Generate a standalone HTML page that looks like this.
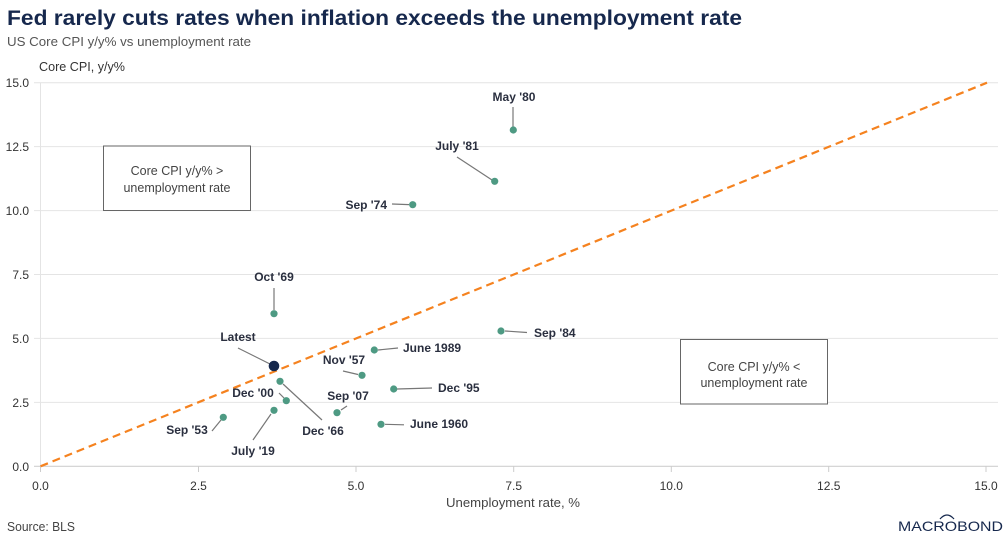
<!DOCTYPE html>
<html><head><meta charset="utf-8"><style>
html,body{margin:0;padding:0;background:#fff;}
svg{display:block;font-family:"Liberation Sans",Arial,sans-serif;}
</style></head><body>
<svg width="1008" height="542" viewBox="0 0 1008 542" xmlns="http://www.w3.org/2000/svg">
<rect width="1008" height="542" fill="#fff"/>
<text x="7" y="25" font-size="21" font-weight="bold" fill="#16284d" textLength="735" lengthAdjust="spacingAndGlyphs">Fed rarely cuts rates when inflation exceeds the unemployment rate</text>
<text x="7" y="46" font-size="13" fill="#555" textLength="244" lengthAdjust="spacingAndGlyphs">US Core CPI y/y% vs unemployment rate</text>
<text x="39" y="71" font-size="12.5" fill="#333" textLength="86" lengthAdjust="spacingAndGlyphs">Core CPI, y/y%</text>
<!-- gridlines -->
<g stroke="#e4e4e4" stroke-width="1">
<line x1="34" y1="82.7" x2="998" y2="82.7"/>
<line x1="34" y1="146.6" x2="998" y2="146.6"/>
<line x1="34" y1="210.6" x2="998" y2="210.6"/>
<line x1="34" y1="274.5" x2="998" y2="274.5"/>
<line x1="34" y1="338.4" x2="998" y2="338.4"/>
<line x1="34" y1="402.4" x2="998" y2="402.4"/>
<line x1="40.5" y1="82.7" x2="40.5" y2="466.3"/>
</g>
<line x1="34" y1="466.3" x2="998" y2="466.3" stroke="#d0d0d0" stroke-width="1.2"/>
<g stroke="#ccc" stroke-width="1">
<line x1="40.5" y1="466" x2="40.5" y2="472"/>
<line x1="198.5" y1="466" x2="198.5" y2="472"/>
<line x1="356" y1="466" x2="356" y2="472"/>
<line x1="513.7" y1="466" x2="513.7" y2="472"/>
<line x1="671.3" y1="466" x2="671.3" y2="472"/>
<line x1="828.7" y1="466" x2="828.7" y2="472"/>
<line x1="986" y1="466" x2="986" y2="472"/>
</g>
<g font-size="12" fill="#333" text-anchor="end">
<text x="29" y="87">15.0</text>
<text x="29" y="151">12.5</text>
<text x="29" y="215">10.0</text>
<text x="29" y="279">7.5</text>
<text x="29" y="343">5.0</text>
<text x="29" y="407">2.5</text>
<text x="29" y="471">0.0</text>
</g>
<g font-size="12" fill="#333" text-anchor="middle">
<text x="40.5" y="490">0.0</text>
<text x="198.5" y="490">2.5</text>
<text x="356" y="490">5.0</text>
<text x="513.7" y="490">7.5</text>
<text x="671.3" y="490">10.0</text>
<text x="828.7" y="490">12.5</text>
<text x="986" y="490">15.0</text>
</g>
<text x="513" y="507" font-size="12.5" fill="#444" text-anchor="middle" textLength="134" lengthAdjust="spacingAndGlyphs">Unemployment rate, %</text>
<text x="7" y="531" font-size="12.5" fill="#444" textLength="68" lengthAdjust="spacingAndGlyphs">Source: BLS</text>
<!-- logo -->
<text x="898" y="531" font-size="14" fill="#16284d" textLength="105" lengthAdjust="spacingAndGlyphs">MACROBOND</text>
<path d="M940 519 Q947 511 954 519" stroke="#16284d" stroke-width="1.3" fill="none"/>
<!-- boxes -->
<rect x="103.5" y="146" width="147" height="64.5" fill="#fff" stroke="#666" stroke-width="1"/>
<text x="177" y="175" font-size="12.5" fill="#444" text-anchor="middle">Core CPI y/y% &gt;</text>
<text x="177" y="192" font-size="12.5" fill="#444" text-anchor="middle">unemployment rate</text>
<rect x="680.5" y="339.5" width="147" height="64.5" fill="#fff" stroke="#666" stroke-width="1"/>
<text x="754" y="371" font-size="12.5" fill="#444" text-anchor="middle">Core CPI y/y% &lt;</text>
<text x="754" y="387" font-size="12.5" fill="#444" text-anchor="middle">unemployment rate</text>
<!-- diagonal -->
<line x1="40.5" y1="466.3" x2="987" y2="82.7" stroke="#f5821f" stroke-width="2.2" stroke-dasharray="8,5"/>
<!-- leader lines -->
<g stroke="#777" stroke-width="1.2">
<line x1="513" y1="107" x2="513" y2="127"/>
<line x1="457" y1="157" x2="492" y2="180"/>
<line x1="392" y1="204" x2="409" y2="204.6"/>
<line x1="274" y1="288" x2="274" y2="310"/>
<line x1="505" y1="331" x2="527" y2="332.5"/>
<line x1="378" y1="350" x2="398" y2="348"/>
<line x1="238" y1="348" x2="270" y2="364"/>
<line x1="343" y1="371" x2="358" y2="374.5"/>
<line x1="397" y1="389" x2="432" y2="388"/>
<line x1="283" y1="384" x2="322" y2="420"/>
<line x1="279" y1="393" x2="284" y2="398"/>
<line x1="341" y1="410" x2="347" y2="406"/>
<line x1="271" y1="414" x2="253" y2="440"/>
<line x1="212" y1="431" x2="221" y2="420"/>
<line x1="385" y1="424.3" x2="404" y2="424.8"/>
</g>
<!-- points -->
<g fill="#4e9a83">
<circle cx="513.3" cy="130" r="3.6"/>
<circle cx="494.7" cy="181.3" r="3.6"/>
<circle cx="412.7" cy="204.7" r="3.6"/>
<circle cx="274" cy="313.7" r="3.6"/>
<circle cx="501" cy="331" r="3.6"/>
<circle cx="374.3" cy="350" r="3.6"/>
<circle cx="362" cy="375.3" r="3.6"/>
<circle cx="393.7" cy="389" r="3.6"/>
<circle cx="280" cy="381.3" r="3.6"/>
<circle cx="286.3" cy="400.7" r="3.6"/>
<circle cx="337" cy="412.7" r="3.6"/>
<circle cx="274" cy="410.3" r="3.6"/>
<circle cx="223.3" cy="417.3" r="3.6"/>
<circle cx="381" cy="424.3" r="3.6"/>
</g>
<circle cx="274" cy="366" r="5.3" fill="#16284d"/>
<!-- labels -->
<g font-size="12" font-weight="bold" fill="#2a2f3f">
<text x="514" y="101" text-anchor="middle">May '80</text>
<text x="457" y="150" text-anchor="middle">July '81</text>
<text x="387" y="209" text-anchor="end">Sep '74</text>
<text x="274" y="281" text-anchor="middle">Oct '69</text>
<text x="534" y="337">Sep '84</text>
<text x="403" y="352">June 1989</text>
<text x="238" y="341" text-anchor="middle">Latest</text>
<text x="344" y="364" text-anchor="middle">Nov '57</text>
<text x="438" y="392">Dec '95</text>
<text x="323" y="435" text-anchor="middle">Dec '66</text>
<text x="253" y="397" text-anchor="middle">Dec '00</text>
<text x="348" y="400" text-anchor="middle">Sep '07</text>
<text x="253" y="455" text-anchor="middle">July '19</text>
<text x="187" y="434" text-anchor="middle">Sep '53</text>
<text x="410" y="428">June 1960</text>
</g>
</svg>
</body></html>
